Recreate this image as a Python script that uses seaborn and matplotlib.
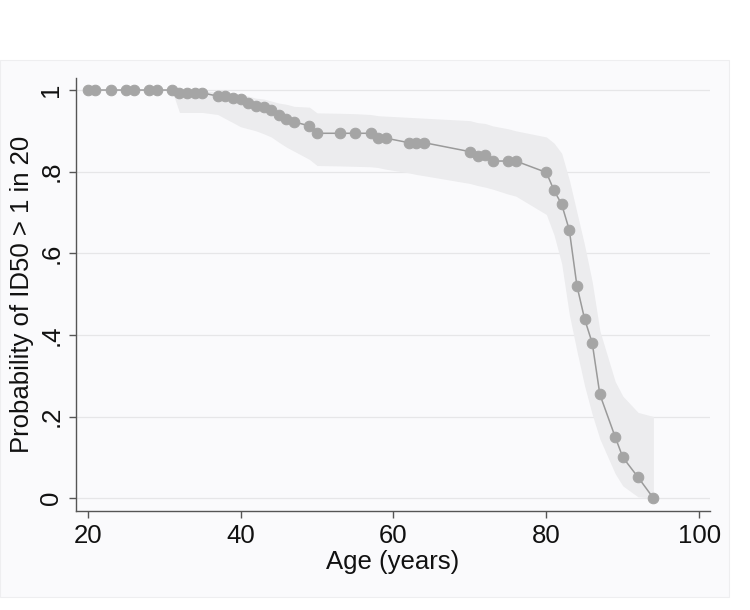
import matplotlib
matplotlib.use("Agg")
import matplotlib.pyplot as plt
import numpy as np
import pandas as pd
import seaborn as sns
from matplotlib.patches import Rectangle

# Age at each observed drop, estimated probability and its confidence band
ages = [20, 21, 23, 25, 26, 28, 29, 31, 32, 33, 34, 35, 37, 38, 39, 40, 41, 42,
        43, 44, 45, 46, 47, 49, 50, 53, 55, 57, 58, 59, 62, 63, 64, 70, 71, 72,
        73, 75, 76, 80, 81, 82, 83, 84, 85, 86, 87, 89, 90, 92, 94]
prob = [1, 1, 1, 1, 1, 1, 1, 1, 0.993, 0.993, 0.993, 0.993, 0.985, 0.985, 0.98,
        0.978, 0.968, 0.96, 0.958, 0.95, 0.94, 0.93, 0.922, 0.912, 0.894, 0.894,
        0.894, 0.894, 0.882, 0.882, 0.871, 0.871, 0.871, 0.849, 0.838, 0.84,
        0.826, 0.826, 0.826, 0.798, 0.754, 0.72, 0.657, 0.52, 0.439, 0.38,
        0.254, 0.15, 0.10, 0.051, 0.0]
ci_low = [1, 1, 1, 1, 1, 1, 1, 1, 0.945, 0.945, 0.945, 0.945, 0.94, 0.93, 0.92,
          0.91, 0.905, 0.9, 0.893, 0.885, 0.872, 0.86, 0.85, 0.83, 0.815, 0.814,
          0.813, 0.812, 0.81, 0.806, 0.797, 0.793, 0.79, 0.771, 0.766, 0.762,
          0.757, 0.745, 0.74, 0.695, 0.645, 0.575, 0.45, 0.36, 0.275, 0.205,
          0.145, 0.06, 0.03, 0.003, 0.0]
ci_high = [1, 1, 1, 1, 1, 1, 1, 1, 1.0, 1.0, 1.0, 0.998, 0.995, 0.993, 0.99,
           0.99, 0.985, 0.98, 0.978, 0.973, 0.968, 0.965, 0.96, 0.958, 0.944,
           0.943, 0.942, 0.94, 0.937, 0.936, 0.933, 0.932, 0.931, 0.925, 0.92,
           0.918, 0.912, 0.905, 0.9, 0.885, 0.87, 0.845, 0.78, 0.70, 0.62, 0.53,
           0.41, 0.286, 0.25, 0.21, 0.2]

x_ticks = [20, 40, 60, 80, 100]
y_ticks = [0, 0.2, 0.4, 0.6, 0.8, 1]
y_ticklabels = ["0", ".2", ".4", ".6", ".8", "1"]

df = pd.DataFrame({"age": ages, "prob": prob, "lo": ci_low, "hi": ci_high})

sns.set_theme(style="white")
plt.rcParams["font.family"] = ["Liberation Sans", "DejaVu Sans"]

bg = "#fafafc"
fig = plt.figure(figsize=(7.5, 6.1), dpi=100, facecolor="white")
# faint graph region (Stata-like plot region), kept behind the axes
region = Rectangle((0, 1 - 597 / 610), 729 / 750, (597 - 60) / 610,
                   transform=fig.transFigure, facecolor=bg,
                   edgecolor="#eeeef0", linewidth=0.8, zorder=-10)
fig.add_artist(region)
ax = fig.add_axes([0.101, 0.162, 0.846, 0.7105])
ax.set_facecolor(bg)
ax.set_zorder(1)

ax.fill_between(df["age"], df["lo"], df["hi"], color="#ececee", linewidth=0,
                zorder=1)
sns.lineplot(data=df, x="age", y="prob", ax=ax, color="#9a9a9a", linewidth=1.1,
             marker="o", markersize=7.6, markerfacecolor="#a5a5a5",
             markeredgecolor="#a5a5a5", zorder=3)

ax.set_xlim(18.43, 101.44)
ax.set_ylim(-0.032, 1.03)
ax.set_xticks(x_ticks)
ax.set_yticks(y_ticks)
ax.set_yticklabels(y_ticklabels, rotation=90, va="center")
ax.grid(axis="y", color="#e6e6e8", linewidth=0.9)
ax.grid(axis="x", visible=False)

for side in ["top", "right"]:
    ax.spines[side].set_visible(False)
for side in ["left", "bottom"]:
    ax.spines[side].set_color("#555555")
    ax.spines[side].set_linewidth(1.0)
ax.tick_params(axis="both", which="major", direction="out", length=5,
               width=1.0, color="#555555", labelsize=18.5, labelcolor="#111111",
               left=True, bottom=True, pad=4)

ax.set_xlabel("Age (years)", fontsize=18.5, color="#111111", labelpad=2)
ax.set_ylabel("Probability of ID50 > 1 in 20", fontsize=18.5, color="#111111",
              labelpad=4)

fig.savefig("out.png", dpi=100, facecolor="white")
